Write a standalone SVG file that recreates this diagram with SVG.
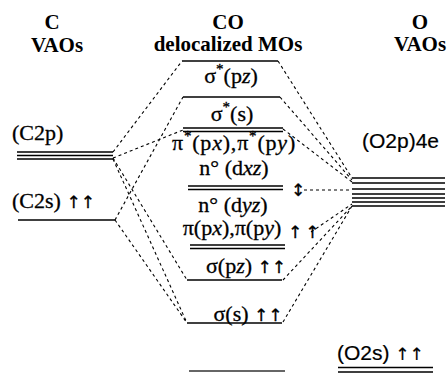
<svg xmlns="http://www.w3.org/2000/svg" width="447" height="374" viewBox="0 0 447 374">
<style>
text{font-family:"Liberation Serif","DejaVu Serif",serif;font-size:22px;fill:#000;stroke:#000;stroke-width:0.3}
.t{text-anchor:middle}
.h{font-size:21px;font-weight:bold;stroke-width:0}
.sans{font-family:"Liberation Sans","DejaVu Sans",sans-serif;font-size:21px;stroke-width:0.2}
.lv{stroke:#000;stroke-width:1.5;fill:none}
.cn{stroke:#000;stroke-width:1.1;stroke-dasharray:3 3;fill:none}
.i{font-style:italic}
.sup{font-size:15px}
.ar{font-family:"DejaVu Sans",sans-serif;font-size:17px}
</style>
<rect width="447" height="374" fill="#fff"/>
<g id="title-c"><text class="t h" x="52" y="29">C</text><text class="t h" x="57" y="52">VAOs</text></g>
<g id="title-co"><text class="t h" x="228" y="29">CO</text><text class="t h" x="228" y="51">delocalized MOs</text></g>
<g id="title-o"><text class="t h" x="420" y="29">O</text><text class="t h" x="420" y="51">VAOs</text></g>

<g id="c2p"><text x="12" y="140">(C2p)</text>
<path class="lv" d="M17 152H113M17 155.5H113M17 159H113"/></g>
<g id="c2s"><text x="12" y="208">(C2s) <tspan class="ar">↑↑</tspan></text>
<path class="lv" d="M18 220H115"/></g>

<g id="o2p"><text class="sans" x="362" y="148">(O2p)4e</text>
<path class="lv" d="M352 178H445M352 183H445M352 189H445M352 194H445M352 198H445M352 202H445M352 206H445"/></g>
<g id="o2s"><text class="sans" x="337" y="360">(O2s) <tspan class="ar">↑↑</tspan></text>
<path class="lv" d="M338 367.5H433M338 372H433"/></g>

<g id="mo-sigma-star-pz"><path class="lv" d="M182 61H278"/>
<text class="t" x="231" y="83">σ<tspan class="sup" dy="-9">*</tspan><tspan dy="9">(p</tspan><tspan class="i">z</tspan>)</text></g>
<g id="mo-sigma-star-s"><path class="lv" d="M183 97H280"/>
<text class="t" x="232" y="121">σ<tspan class="sup" dy="-9">*</tspan><tspan dy="9">(s)</tspan></text></g>
<g id="mo-pi-star"><path class="lv" d="M183 128H283M183 131.5H283"/>
<text class="t" x="234" y="150" letter-spacing="0.8">π<tspan class="sup" dy="-9">*</tspan><tspan dy="9">(p</tspan><tspan class="i">x</tspan>),π<tspan class="sup" dy="-9">*</tspan><tspan dy="9">(p</tspan><tspan class="i">y</tspan>)</text></g>
<g id="mo-n-dxz"><text class="t" x="234" y="175">n°  (d<tspan class="i">xz</tspan>)</text>
<path class="lv" d="M188 186H283M188 189.5H283"/>
<text x="291" y="196" class="ar">↕</text></g>
<g id="mo-n-dyz"><text class="t" x="233" y="212">n°  (d<tspan class="i">yz</tspan>)</text></g>
<g id="mo-pi"><text class="t" x="232" y="235">π(p<tspan class="i">x</tspan>),π(p<tspan class="i">y</tspan>)</text>
<text x="288" y="238" class="ar" letter-spacing="3">↑↑</text>
<path class="lv" d="M190 245H285M190 248.5H285"/></g>
<g id="mo-sigma-pz"><text class="t" x="246" y="273">σ(p<tspan class="i">z</tspan>) <tspan class="ar">↑↑</tspan></text>
<path class="lv" d="M187 280H282"/></g>
<g id="mo-sigma-s"><text class="t" x="248" y="321">σ(s) <tspan class="ar">↑↑</tspan></text>
<path class="lv" d="M187 323H282"/></g>
<g id="mo-bottom"><path d="M189 371H285" stroke="#666" stroke-width="2"/></g>

<g id="connectors">
<path class="cn" d="M113 152L182 61"/>
<path class="cn" d="M115 220L183 97"/>
<path class="cn" d="M113 158L183 130"/>
<path class="cn" d="M113 158L187 280"/>
<path class="cn" d="M115 220L187 323"/>
<path class="cn" d="M113 159L187 323"/>
<path class="cn" d="M278 61L352 178"/>
<path class="cn" d="M280 97L352 180"/>
<path class="cn" d="M283 129L352 182"/>
<path class="cn" d="M304 190H352"/>
<path class="cn" d="M311 232L352 204"/>
<path class="cn" d="M283 280L352 206"/>
<path class="cn" d="M283 322L352 206"/>
</g>
</svg>
